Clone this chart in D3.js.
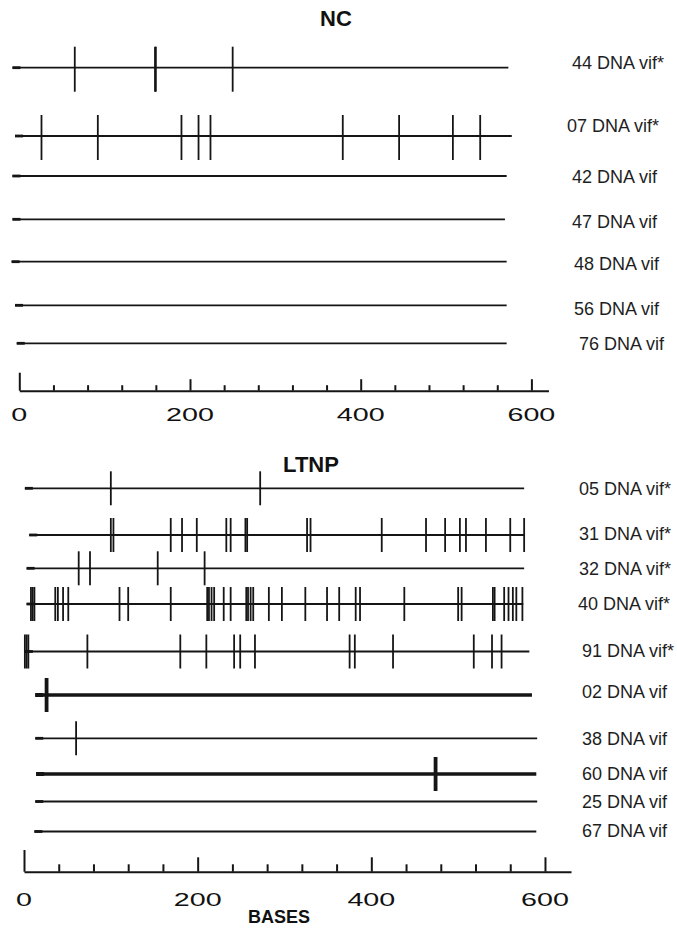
<!DOCTYPE html>
<html lang="en">
<head>
<meta charset="utf-8">
<title>vif DNA mutations NC / LTNP</title>
<script src="https://d3js.org/d3.v7.min.js"></script>
<style>
  body { margin: 0; background: #fff; }
  text { font-family: "Liberation Sans", Arial, sans-serif; fill: #111; }
</style>
</head>
<body>
<script>
// ---- data (positions along vif, in bases) ----
var ncSamples = ["44 DNA vif*", "07 DNA vif*", "42 DNA vif", "47 DNA vif", "48 DNA vif", "56 DNA vif", "76 DNA vif"];
var ncStart = [-8, -5, -8, -8, -9, -5, -3];
var ncEnd = [573, 577, 571, 569, 571, 571, 571];
var ncSites = [
  [65, 159, 160, 250],
  [26, 92, 190, 210, 224, 379, 445, 508, 540],
  [], [], [], [], []
];

var ltnpSamples = ["05 DNA vif*", "31 DNA vif*", "32 DNA vif*", "40 DNA vif*", "91 DNA vif*",
                   "02 DNA vif", "38 DNA vif", "60 DNA vif", "25 DNA vif", "67 DNA vif"];
var ltnpStart = [1, 6, 3, 3, 1, 13, 13, 14, 13, 12];
var ltnpEnd = [576, 576, 576, 575, 582, 585, 591, 590, 591, 590];
var ltnpSites = [
  [100, 272],
  [100, 103, 169, 182, 199, 233, 238, 255, 257, 326, 330, 412, 463, 485, 502, 509, 532, 560, 576],
  [63, 76, 154, 208],
  [8, 10, 12, 36, 39, 45, 51, 110, 120, 169, 211, 213, 216, 219, 230, 238, 256, 258, 261, 264,
   282, 297, 324, 349, 363, 382, 387, 438, 500, 504, 540, 542, 553, 558, 563, 567, 574],
  [1, 3, 5, 73, 180, 210, 242, 249, 266, 375, 381, 425, 518, 539, 550],
  [26],
  [60],
  [474],
  [],
  []
];

var majorTicks = [0, 200, 400, 600];
var minorTicks = [40, 80, 120, 160, 240, 280, 320, 360, 440, 480, 520, 560];

// ---- layout ----
var w = 677, h = 929;
var ink = "#151515";

var panels = [
  { title: "NC", titleX: 336, titleY: 26,
    samples: ncSamples, start: ncStart, end: ncEnd, sites: ncSites,
    x0: 19.3, pxPerBase: 0.8535, axisMax: 620, axisY: 390.7,
    rowY: [67.7, 136, 176, 219.3, 261.7, 305.3, 343.3],
    labelX: [572, 567, 572, 572, 574, 574, 579],
    labelY: [69, 132, 183, 228, 270, 315, 350],
    tickUp: 21, tickDown: 24, zeroTick: 18, majorTick: 11.5, minorTick: 5.5, numY: 421,
    thick: [] },
  { title: "LTNP", titleX: 311, titleY: 472,
    samples: ltnpSamples, start: ltnpStart, end: ltnpEnd, sites: ltnpSites,
    x0: 24, pxPerBase: 0.8683, axisMax: 630, axisY: 871.7,
    rowY: [488.3, 535, 568.3, 604, 651.5, 695, 738.3, 774, 801.5, 831.5],
    labelX: [579, 579, 579, 578, 582, 582, 582, 582, 582, 582],
    labelY: [495, 540, 575, 610, 657, 698, 745, 780, 808, 837],
    tickUp: 17, tickDown: 17, zeroTick: 21.7, majorTick: 14.4, minorTick: 7.4, numY: 906,
    thick: ["02 DNA vif", "60 DNA vif"] }
];

var svg = d3.select("body").append("svg")
  .attr("width", w)
  .attr("height", h);

svg.append("rect")
  .attr("width", w)
  .attr("height", h)
  .attr("fill", "#fff");

panels.forEach(function(p) {
  var x = d3.scaleLinear()
    .domain([0, p.axisMax])
    .range([p.x0, p.x0 + p.axisMax * p.pxPerBase]);
  var y = d3.scaleOrdinal().domain(p.samples).range(p.rowY);
  var ly = d3.scaleOrdinal().domain(p.samples).range(p.labelY);
  var lx = d3.scaleOrdinal().domain(p.samples).range(p.labelX);

  var rows = p.samples.map(function(s, i) {
    return { name: s, start: p.start[i], end: p.end[i], sites: p.sites[i],
             thick: p.thick.indexOf(s) >= 0 };
  });

  // title
  svg.append("text")
    .attr("x", p.titleX)
    .attr("y", p.titleY)
    .attr("text-anchor", "middle")
    .style("font-size", "22px")
    .style("font-weight", "bold")
    .text(p.title);

  var g = svg.append("g");

  // sequence lines
  g.selectAll(".seq").data(rows).enter().append("line")
    .attr("x1", d => x(d.start))
    .attr("x2", d => x(d.end))
    .attr("y1", d => y(d.name))
    .attr("y2", d => y(d.name))
    .attr("stroke", ink)
    .attr("stroke-width", d => d.thick ? 3.6 : 1.8);

  // small darker stub at the start of each line
  g.selectAll(".stub").data(rows).enter().append("line")
    .attr("x1", d => x(d.start))
    .attr("x2", d => x(d.start) + 8)
    .attr("y1", d => y(d.name))
    .attr("y2", d => y(d.name))
    .attr("stroke", ink)
    .attr("stroke-width", d => d.thick ? 4 : 2.8);

  // mutation marks
  var marks = [];
  rows.forEach(function(r) {
    r.sites.forEach(function(s) { marks.push({ name: r.name, pos: s, thick: r.thick }); });
  });
  g.selectAll(".site").data(marks).enter().append("line")
    .attr("x1", d => x(d.pos))
    .attr("x2", d => x(d.pos))
    .attr("y1", d => y(d.name) - p.tickUp)
    .attr("y2", d => y(d.name) + p.tickDown)
    .attr("stroke", ink)
    .attr("stroke-width", d => d.thick ? 3.8 : 1.8);

  // sample labels
  g.selectAll(".lab").data(rows).enter().append("text")
    .attr("x", d => lx(d.name))
    .attr("y", d => ly(d.name))
    .style("font-size", "18px")
    .style("fill", "#1e1e1e")
    .text(d => d.name);

  // axis: minor ticks + baseline
  var axG = svg.append("g").attr("transform", "translate(0," + p.axisY + ")");
  axG.append("g")
    .call(d3.axisTop(x).tickValues(minorTicks).tickSize(p.minorTick).tickSizeOuter(0).tickFormat(""));
  axG.append("g")
    .call(d3.axisTop(x).tickValues(majorTicks.slice(1)).tickSize(p.majorTick).tickFormat(""))
    .select(".domain").remove();
  axG.append("g")
    .call(d3.axisTop(x).tickValues([0]).tickSize(p.zeroTick).tickFormat(""))
    .select(".domain").remove();
  axG.selectAll("path, line")
    .attr("stroke", ink)
    .attr("stroke-width", 2);

  // axis numbers (the original uses a wide face)
  svg.append("g").selectAll("text").data(majorTicks).enter().append("text")
    .attr("transform", d => "translate(" + x(d) + "," + p.numY + ") scale(1.55,1)")
    .attr("text-anchor", "middle")
    .style("font-size", "18.5px")
    .text(d => d);

  if (p.title === "LTNP") {
    svg.append("text")
      .attr("x", 279)
      .attr("y", 923)
      .attr("text-anchor", "middle")
      .style("font-size", "18px")
      .style("font-weight", "bold")
      .text("BASES");
  }
});
</script>
</body>
</html>
